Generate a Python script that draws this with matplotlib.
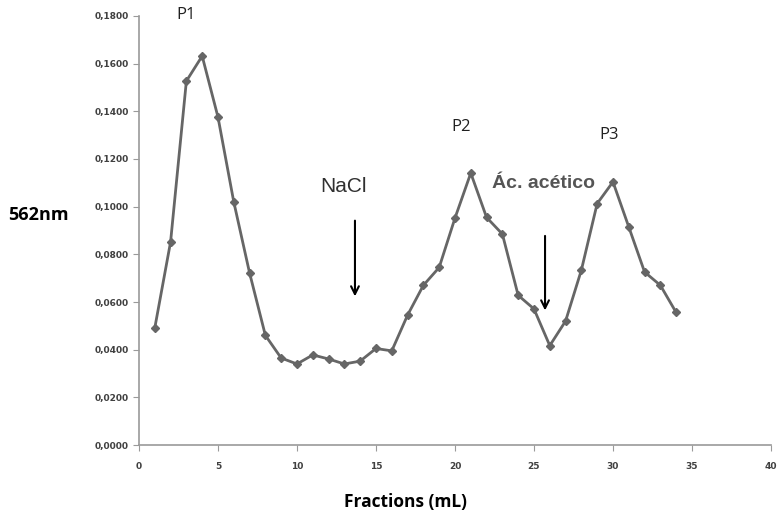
import matplotlib.pyplot as plt
import numpy as np

# fraction number vs absorbance at 562 nm
fractions = np.arange(1, 35)
absorbance = [0.0491, 0.0852, 0.1527, 0.1632, 0.1376, 0.1020, 0.0722, 0.0460,
              0.0365, 0.0340, 0.0378, 0.0361, 0.0340, 0.0352, 0.0405, 0.0395,
              0.0545, 0.0670, 0.0745, 0.0952, 0.1141, 0.0955, 0.0885, 0.0628,
              0.0571, 0.0417, 0.0520, 0.0734, 0.1013, 0.1104, 0.0915, 0.0726,
              0.0670, 0.0556]

peak_labels = ['P1', 'P2', 'P3']
peak_pos = [(3.0, 0.1804), (20.4, 0.1334), (29.75, 0.1301)]

# elution arrows (x, y_start, y_end)
arrows = [(13.67, 0.0953, 0.0612), (25.7, 0.0889, 0.0553)]
arrow_labels = ['NaCl', 'Ác. acético']
arrow_label_pos = [(12.97, 0.1083), (25.63, 0.1099)]

fig = plt.figure(figsize=(7.79, 5.14), dpi=100)
ax = fig.add_axes([0.1784, 0.1342, 0.8113, 0.8347])

ax.plot(fractions, absorbance, c='#666666', lw=2, marker='D', ms=4.5,
        mfc='#666666', mec='#666666')

ax.set_xlim(0, 40)
ax.set_ylim(0, 0.18)
ax.set_xticks(np.arange(0, 41, 5))
yt = np.arange(0, 0.181, 0.02)
ax.set_yticks(yt)
ax.set_yticklabels([('%.4f' % v).replace('.', ',') for v in yt])

for s in ['top', 'right']:
    ax.spines[s].set_visible(False)
for s in ['left', 'bottom']:
    ax.spines[s].set_color('#9a9a9a')
    ax.spines[s].set_linewidth(1.2)
ax.tick_params(direction='out', length=4, color='#9a9a9a', labelsize=6.5,
               labelcolor='#404040')
ax.tick_params(axis='x', pad=8)
for t in ax.get_xticklabels() + ax.get_yticklabels():
    t.set_fontweight('bold')

for lab, (px, py) in zip(peak_labels, peak_pos):
    ax.text(px, py, lab, ha='center', va='center', fontsize=12,
            family='Open Sans', color='#202020', clip_on=False)

for (axx, y0, y1) in arrows:
    ax.annotate('', xy=(axx, y1), xytext=(axx, y0),
                arrowprops=dict(arrowstyle='->', color='black', lw=1.5,
                                mutation_scale=14))

ax.text(*arrow_label_pos[0], arrow_labels[0], ha='center', va='center',
        fontsize=15, family='Liberation Sans', color='#303030')
ax.text(*arrow_label_pos[1], arrow_labels[1], ha='center', va='center',
        fontsize=14, family='Liberation Sans', color='#555555', fontweight='bold')

fig.text(38 / 779, 1 - 215 / 514, '562nm', ha='center', va='center',
         fontsize=13, fontweight='bold', family='Open Sans')
fig.text(405 / 779, 1 - 502 / 514, 'Fractions (mL)', ha='center', va='center',
         fontsize=12.5, fontweight='bold', family='Open Sans')

fig.savefig('out.png', dpi=100)
